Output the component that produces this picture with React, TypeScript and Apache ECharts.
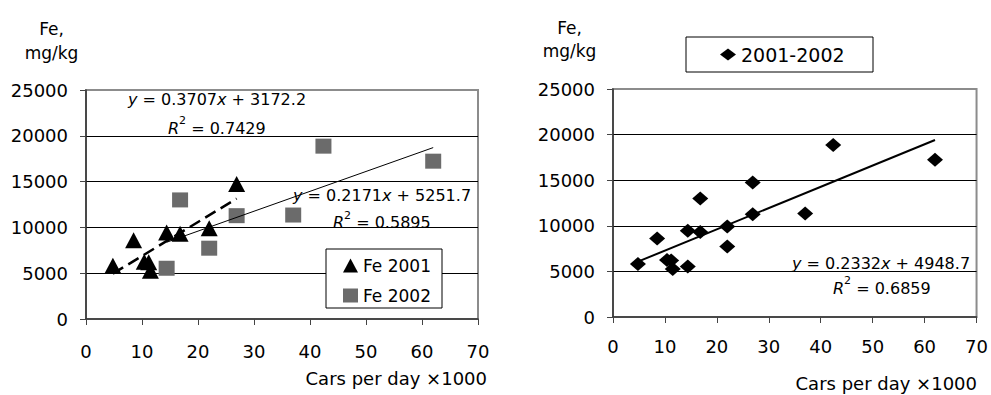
import React, { useEffect, useRef } from "react";
import * as echarts from "echarts";

// ---- data ----
const fe2001X = [4.8, 8.5, 10.4, 11.2, 11.5, 14.4, 16.8, 22.0, 26.9];
const fe2001Y = [5800, 8600, 6240, 6200, 5260, 9450, 9310, 9920, 14740];
const fe2002X = [14.4, 16.8, 22.0, 26.9, 37.0, 42.4, 62.0];
const fe2002Y = [5540, 13000, 7730, 11280, 11350, 18870, 17230];

const xAxisMin = 0;
const xAxisMax = 70;
const xAxisStep = 10;
const yAxisMin = 0;
const yAxisMax = 25000;
const yAxisStep = 5000;

// regression equations shown on the chart (x in cars/day, axis in thousands)
const trend2001 = { slope: 0.3707, intercept: 3172.2, r2: "0.7429" };
const trend2002 = { slope: 0.2171, intercept: 5251.7, r2: "0.5895" };
const trendAll = { slope: 0.2332, intercept: 4948.7, r2: "0.6859" };

const seriesNames = ["Fe 2001", "Fe 2002", "2001-2002"];
const xAxisTitle = "Cars per day ×1000";
const yAxisTitle = "Fe,\nmg/kg";

const FONT = "DejaVu Sans";

function pairs(xs: number[], ys: number[]) {
  return xs.map((x, i) => [x, ys[i]]);
}
function trendLine(xs: number[], t: { slope: number; intercept: number }) {
  const lo = Math.min(...xs);
  const hi = Math.max(...xs);
  return [lo, hi].map((x) => [x, t.slope * x * 1000 + t.intercept]);
}
function eqText(t: { slope: number; intercept: number }) {
  return `{i|y} = ${t.slope}{i|x} + ${t.intercept}`;
}

const richStyles = {
  i: { fontStyle: "italic", fontFamily: FONT, fontSize: 16, fill: "#000", lineHeight: 26 },
  n: { fontFamily: FONT, fontSize: 16, fill: "#000", lineHeight: 26 },
  sup: { fontFamily: FONT, fontSize: 11, fill: "#000", verticalAlign: "top", lineHeight: 10 },
};

function xAxisCfg(gridIndex: number, margin: number) {
  return {
    type: "value",
    gridIndex,
    min: xAxisMin,
    max: xAxisMax,
    interval: xAxisStep,
    axisLine: { show: true, onZero: false, lineStyle: { color: "#333", width: 1.5 } },
    axisTick: { show: true, length: 6, lineStyle: { color: "#444", width: 1 } },
    axisLabel: { margin, color: "#000", fontSize: 18, fontFamily: FONT },
    splitLine: { show: false },
  };
}
function yAxisCfg(gridIndex: number) {
  return {
    type: "value",
    gridIndex,
    min: yAxisMin,
    max: yAxisMax,
    interval: yAxisStep,
    axisLine: { show: true, lineStyle: { color: "#333", width: 1.5 } },
    axisTick: { show: true, length: 6, lineStyle: { color: "#444", width: 1 } },
    axisLabel: {
      margin: 18,
      color: "#000",
      fontSize: 18,
      fontFamily: FONT,
      formatter: (v: number) => String(v),
    },
    splitLine: {
      show: true,
      showMinLine: false,
      showMaxLine: false,
      lineStyle: { color: "#000", width: 1 },
    },
  };
}

function textEl(x: number, y: number, text: string, opts: any = {}) {
  return {
    type: "text",
    x,
    y,
    z: 6,
    style: {
      text,
      fill: "#000",
      fontFamily: FONT,
      fontSize: 16,
      textAlign: "left",
      textVerticalAlign: "middle",
      ...opts,
    },
  };
}

export default function App() {
  const ref = useRef<HTMLDivElement>(null);

  useEffect(() => {
    if (!ref.current) return;
    const chart = echarts.init(ref.current, undefined, { renderer: "svg" });

    const allX = [...fe2001X, ...fe2002X];
    const allY = [...fe2001Y, ...fe2002Y];

    const option: any = {
      animation: false,
      backgroundColor: "#fff",
      grid: [
        { left: 86, top: 90, width: 392, height: 229, show: true, borderColor: "#8c8c8c", borderWidth: 2 },
        { left: 613, top: 89, width: 366, height: 228, show: true, borderColor: "#8c8c8c", borderWidth: 2 },
      ],
      xAxis: [xAxisCfg(0, 23), xAxisCfg(1, 20)],
      yAxis: [yAxisCfg(0), yAxisCfg(1)],
      legend: [
        {
          data: [
            { name: seriesNames[0], icon: "triangle" },
            { name: seriesNames[1], icon: "rect" },
          ],
          orient: "vertical",
          left: 343,
          top: 257,
          padding: 0,
          itemWidth: 15,
          itemHeight: 14,
          itemGap: 13,
          selectedMode: false,
          itemStyle: { opacity: 1 },
          textStyle: { fontFamily: FONT, fontSize: 17, color: "#000" },
          z: 8,
        },
        {
          data: [{ name: seriesNames[2], icon: "diamond" }],
          orient: "horizontal",
          left: 720,
          top: 45,
          padding: 0,
          itemWidth: 16,
          itemHeight: 12,
          selectedMode: false,
          itemStyle: { opacity: 1 },
          textStyle: { fontFamily: FONT, fontSize: 19, color: "#000" },
          z: 8,
        },
      ],
      series: [
        {
          name: seriesNames[0],
          type: "scatter",
          xAxisIndex: 0,
          yAxisIndex: 0,
          symbol: "triangle",
          symbolSize: [17, 16],
          itemStyle: { color: "#000", opacity: 1 },
          data: pairs(fe2001X, fe2001Y),
          z: 3,
        },
        {
          name: seriesNames[1],
          type: "scatter",
          xAxisIndex: 0,
          yAxisIndex: 0,
          symbol: "rect",
          symbolSize: [16, 15],
          itemStyle: { color: "#6b6b6b", opacity: 1 },
          data: pairs(fe2002X, fe2002Y),
          z: 3,
        },
        {
          name: "Linear (Fe 2001)",
          type: "line",
          xAxisIndex: 0,
          yAxisIndex: 0,
          showSymbol: false,
          symbol: "none",
          lineStyle: { color: "#000", width: 2.5, type: [12, 6] },
          data: trendLine(fe2001X, trend2001),
          z: 4,
        },
        {
          name: "Linear (Fe 2002)",
          type: "line",
          xAxisIndex: 0,
          yAxisIndex: 0,
          showSymbol: false,
          symbol: "none",
          lineStyle: { color: "#000", width: 1 },
          data: trendLine(fe2002X, trend2002),
          z: 4,
        },
        {
          name: seriesNames[2],
          type: "scatter",
          xAxisIndex: 1,
          yAxisIndex: 1,
          symbol: "diamond",
          symbolSize: [16, 14],
          itemStyle: { color: "#000", opacity: 1 },
          data: pairs(allX, allY),
          z: 3,
        },
        {
          name: "Linear (2001-2002)",
          type: "line",
          xAxisIndex: 1,
          yAxisIndex: 1,
          showSymbol: false,
          symbol: "none",
          lineStyle: { color: "#000", width: 2 },
          data: trendLine(allX, trendAll),
          z: 4,
        },
      ],
      graphic: [
        // legend boxes
        {
          type: "rect",
          z: 5,
          shape: { x: 326, y: 249, width: 116, height: 59 },
          style: { fill: "#fff", stroke: "#000", lineWidth: 1 },
        },
        {
          type: "rect",
          z: 5,
          shape: { x: 686, y: 37, width: 187, height: 35 },
          style: { fill: "#fff", stroke: "#000", lineWidth: 1 },
        },
        // y axis titles
        textEl(51.5, 17, yAxisTitle, { textAlign: "center", textVerticalAlign: "top", fontSize: 17, lineHeight: 24 }),
        textEl(569.5, 16, yAxisTitle, { textAlign: "center", textVerticalAlign: "top", fontSize: 17, lineHeight: 23 }),
        // x axis titles
        textEl(487, 378, xAxisTitle, { textAlign: "right", fontSize: 18 }),
        textEl(977, 383, xAxisTitle, { textAlign: "right", fontSize: 18 }),
        // equations
        textEl(128, 99.5, eqText(trend2001), { rich: richStyles, lineHeight: 26 }),
        textEl(168, 128, `{i|R}{sup|2} = ${trend2001.r2}`, { rich: richStyles, lineHeight: 26 }),
        textEl(293, 195, eqText(trend2002), { rich: richStyles, lineHeight: 26 }),
        textEl(333, 222.5, `{i|R}{sup|2} = ${trend2002.r2}`, { rich: richStyles, lineHeight: 26 }),
        textEl(792, 263, eqText(trendAll), { rich: richStyles, lineHeight: 26 }),
        textEl(833, 288, `{i|R}{sup|2} = ${trendAll.r2}`, { rich: richStyles, lineHeight: 26 }),
      ],
    };

    chart.setOption(option);
    return () => chart.dispose();
  }, []);

  return (
    <div
      ref={ref}
      style={{ position: "absolute", left: 0, top: 0, width: 991, height: 395, background: "#fff" }}
    />
  );
}
